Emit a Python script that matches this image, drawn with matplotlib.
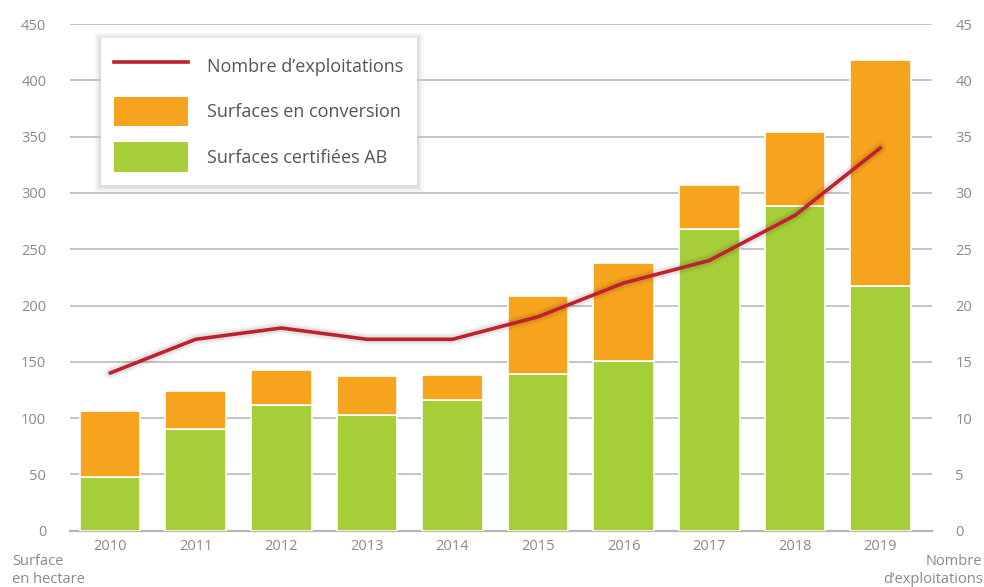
import matplotlib.pyplot as plt
import matplotlib.patheffects as pe
from matplotlib.lines import Line2D
from matplotlib.patches import Patch, Rectangle

plt.rcParams['font.family'] = ['Open Sans', 'DejaVu Sans']

years = ['2010', '2011', '2012', '2013', '2014', '2015', '2016', '2017', '2018', '2019']
surf_ab = [48, 90, 112, 103, 116, 139, 151, 268, 288, 217]          # hectares certified AB
surf_total = [106, 124, 143, 137, 138, 208, 238, 307, 354, 418]     # certified + in conversion
surf_conv = [t - a for t, a in zip(surf_total, surf_ab)]
nb_exploitations = [14, 17, 18, 17, 17, 19, 22, 24, 28, 34]

green = '#a6ce39'
orange = '#f6a41e'
red = '#c1202e'
grey_txt = '#8a8a8a'

fig = plt.figure(figsize=(9.84, 5.87), dpi=100)
ax = fig.add_axes([0.071, 0.096, 0.876, 0.863])
x = range(len(years))

ax.bar(x, surf_ab, width=0.71, color=green, edgecolor='white', linewidth=1.2, zorder=3)
ax.bar(x, surf_conv, bottom=surf_ab, width=0.71, color=orange, edgecolor='white', linewidth=1.2, zorder=3)

ax.set_ylim(0, 450)
ax.set_yticks(range(0, 451, 50))
ax.set_xlim(-0.47, 9.6)
ax.set_xticks(list(x))
ax.set_xticklabels(years)
ax.grid(axis='y', color='#c4c4c4', linewidth=1.4, zorder=0)
ax.set_axisbelow(True)
for s in ['top', 'right', 'left']:
    ax.spines[s].set_visible(False)
ax.spines['bottom'].set_color('#b5b5b5')
ax.spines['bottom'].set_linewidth(1.6)
ax.tick_params(axis='y', length=0, pad=17, labelsize=10.5, labelcolor=grey_txt)
ax.tick_params(axis='x', length=0, pad=6, labelsize=10.5, labelcolor=grey_txt)

ax2 = ax.twinx()
ax2.set_ylim(0, 45)
ax2.set_yticks(range(0, 46, 5))
for s in ax2.spines.values():
    s.set_visible(False)
ax2.tick_params(axis='y', length=0, pad=17, labelsize=10.5, labelcolor=grey_txt)
ax2.plot(x, nb_exploitations, color=red, linewidth=2.6, solid_capstyle='round', zorder=5,
         path_effects=[pe.Stroke(linewidth=9, foreground='k', alpha=0.04),
                       pe.Stroke(linewidth=6, foreground='k', alpha=0.07),
                       pe.Normal()])

handles = [Line2D([0], [0], color=red, linewidth=2.6),
           Patch(facecolor=orange),
           Patch(facecolor=green)]
labels = ['Nombre d\u2019exploitations', 'Surfaces en conversion', 'Surfaces certifiées AB']
leg = ax2.legend(handles, labels, loc='upper left', bbox_to_anchor=(0.036, 0.972),
                 borderaxespad=0, fontsize=13, frameon=True, fancybox=False,
                 handlelength=4.1, handleheight=2.1, handletextpad=1.05,
                 labelspacing=0.9, borderpad=0.75)
leg.get_frame().set_edgecolor('none')
leg.get_frame().set_facecolor('white')
leg.get_frame().set_alpha(1)
for t in leg.get_texts():
    t.set_color('#555555')
leg.set_zorder(10)

# soft shadow around the legend box
fig.canvas.draw()
bb = leg.get_frame().get_window_extent().transformed(fig.transFigure.inverted())
W, H = fig.get_size_inches() * fig.dpi
for i, a in enumerate([0.025, 0.03, 0.035, 0.04]):
    g = (4 - i) * 1.6
    fig.patches.append(Rectangle((bb.x0 - g / W, bb.y0 - (g + 1) / H),
                                 bb.width + 2 * g / W, bb.height + 2 * g / H,
                                 transform=fig.transFigure, facecolor='k', alpha=a,
                                 edgecolor='none', zorder=-1))
ax.set_zorder(1)
ax2.set_zorder(2)
ax.patch.set_visible(False)

fig.text(0.012, 0.043, 'Surface', color=grey_txt, fontsize=10.5, ha='left', va='center')
fig.text(0.012, 0.012, 'en hectare', color=grey_txt, fontsize=10.5, ha='left', va='center')
fig.text(0.998, 0.043, 'Nombre', color=grey_txt, fontsize=10.5, ha='right', va='center')
fig.text(0.999, 0.012, 'd\u2019exploitations', color=grey_txt, fontsize=10.5, ha='right', va='center')

fig.savefig('out.png', dpi=100)
